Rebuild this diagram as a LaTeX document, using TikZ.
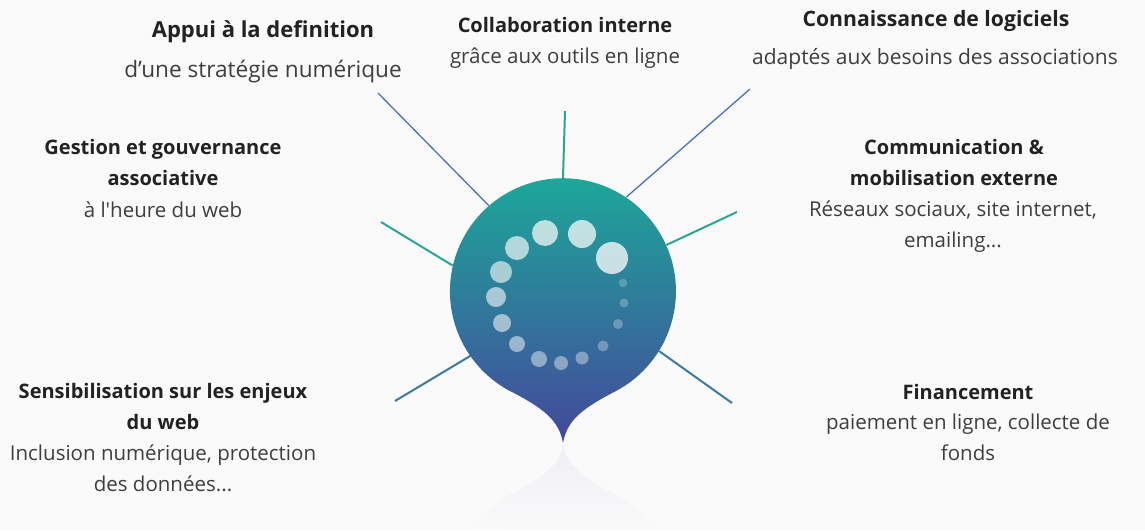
\documentclass[tikz,border=0pt]{standalone}
\usepackage{fontspec}
\setmainfont{Open Sans}[Ligatures=TeXOff]
\definecolor{bgcol}{RGB}{250,250,250}
\definecolor{titlecol}{RGB}{34,34,34}
\definecolor{textcol}{RGB}{62,62,62}
\definecolor{spokeblue}{RGB}{68,114,196}
\definecolor{spoketeal}{RGB}{43,165,155}
\definecolor{spokeslate}{RGB}{60,122,160}
\definecolor{droptop}{RGB}{26,173,154}
\definecolor{dropmid}{RGB}{38,140,158}
\definecolor{dropbot}{RGB}{68,72,155}
\definecolor{mirror}{RGB}{238,239,245}

\begin{document}
\begin{tikzpicture}[x=1pt,y=-1pt,
    title/.style={text=titlecol,font=\bfseries\fontsize{20}{31}\selectfont,align=center,anchor=base,inner sep=0pt},
    body/.style={text=textcol,font=\fontsize{20.5}{31}\selectfont,align=center,anchor=base,inner sep=0pt},
    blueline/.style={draw=spokeblue,line width=1.3pt},
    tealline/.style={draw=spoketeal,line width=2pt},
    slateline/.style={draw=spokeslate,line width=2pt}]
    \fill[bgcol] (0,0) rectangle (1145,530);
    \useasboundingbox (0,0) rectangle (1145,530);

    % labels (base = last line)
    \node[title,font=\bfseries\fontsize{22}{31}\selectfont] (appuiT) at (263,37) {Appui à la definition};
    \node[body,font=\fontsize{22.6}{31}\selectfont] (appuiS) at (263,77) {d’une stratégie numérique};
    \node[title] (collabT) at (565,32) {Collaboration interne};
    \node[body] (collabS) at (565,63) {grâce aux outils en ligne};
    \node[title,font=\bfseries\fontsize{21.2}{31}\selectfont] (logicielT) at (936,26) {Connaissance de logiciels};
    \node[body,font=\fontsize{21}{31}\selectfont] (logicielS) at (935,64) {adaptés aux besoins des associations};
    \node[title] (commT) at (954,185) {Communication \&\\mobilisation externe};
    \node[body] (commS) at (953,247) {Réseaux sociaux, site internet,\\emailing...};
    \node[title] (gestionT) at (163,185) {Gestion et gouvernance\\associative};
    \node[body] (gestionS) at (163,217) {à l'heure du web};
    \node[title] (sensibT) at (163,429) {Sensibilisation sur les enjeux\\du web};
    \node[body] (sensibS) at (163,491) {Inclusion numérique, protection\\des données...};
    \node[title] (financeT) at (968,399) {Financement};
    \node[body] (financeS) at (968,460) {paiement en ligne, collecte de\\fonds};

    % spokes
    \node[circle,minimum size=226pt,inner sep=0pt] (hub) at (563,291) {};
    \coordinate (appuiEnd) at (378,93);
    \coordinate (collabEnd) at (565,111);
    \coordinate (logicielEnd) at (750,89);
    \coordinate (commEnd) at (737,212);
    \coordinate (gestionEnd) at (381,222);
    \coordinate (sensibEnd) at (395,401);
    \coordinate (financeEnd) at (732,403);
    \draw[blueline] (appuiEnd) -- (hub.131);
    \draw[tealline] (collabEnd) -- (hub.90);
    \draw[blueline] (logicielEnd) -- (hub.56);
    \draw[tealline] (commEnd) -- (hub.24);
    \draw[tealline] (gestionEnd) -- (hub.167);
    \draw[slateline] (sensibEnd) -- (hub.215);
    \draw[slateline] (financeEnd) -- (hub.328);

    % drop and its reflection
    \shade[top color=mirror,bottom color=bgcol]
        (510,495) .. controls (543,478) and (559,466) .. (563,445)
        .. controls (567,466) and (583,478) .. (616,495)
        arc[start angle=-62,end angle=-35,radius=113] -- (470.4,530)
        arc[start angle=-145,end angle=-118,radius=113] -- cycle;
    \shade[top color=droptop,middle color=dropmid,bottom color=dropbot]
        (510,391) .. controls (543,408) and (559,420) .. (563,443)
        .. controls (567,420) and (583,408) .. (616,391)
        arc[start angle=62,end angle=-242,radius=113] -- cycle;
    \foreach \px/\py/\pr/\po in {612/258/16/0.75, 582/234/14/0.72, 545/233/13/0.7, 517/248/12/0.65,
        501/272/11/0.6, 496/297/10/0.58, 502/323/9/0.55, 517/344/8/0.5, 539/359/8/0.45,
        561/363/7/0.42, 582/358/6.5/0.38, 603/346/5.5/0.3, 618/324/5/0.28, 624/303/4.5/0.25, 623/283/4.3/0.22}
        \fill[white,opacity=\po] (\px,\py) circle[radius=\pr];
\end{tikzpicture}
\end{document}
